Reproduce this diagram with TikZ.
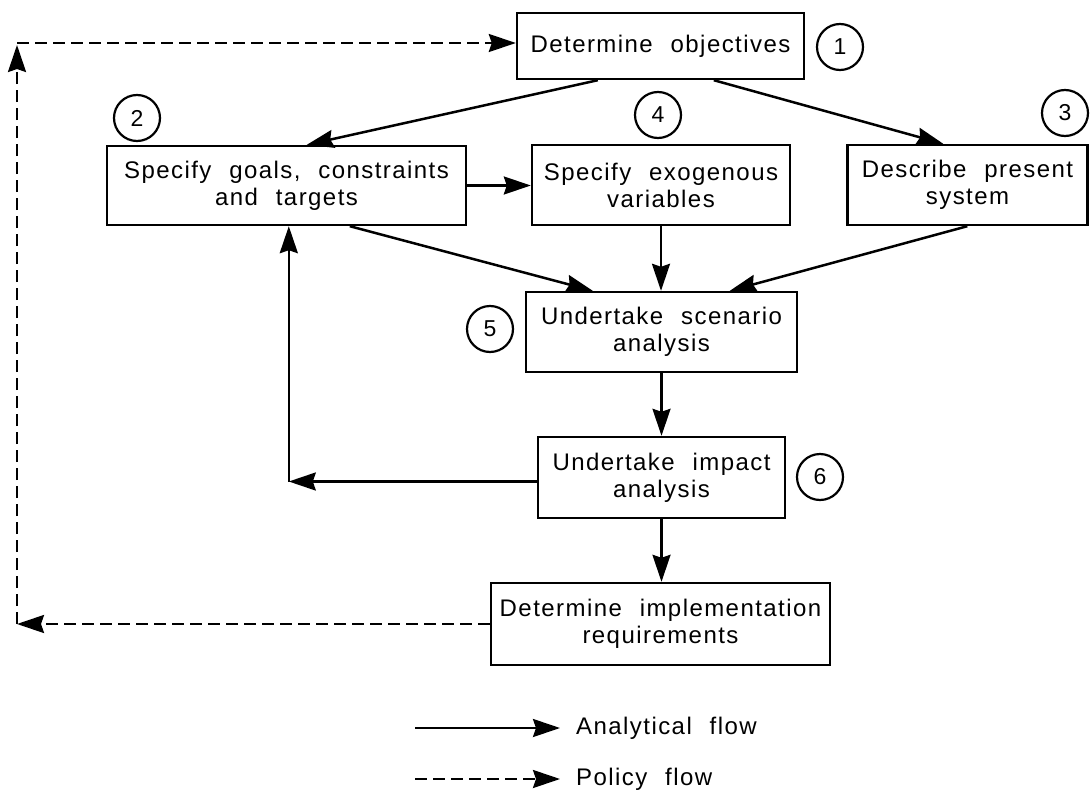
\documentclass[tikz,border=0pt]{standalone}
\usepackage{fontspec}
\setmainfont{Liberation Sans}[LetterSpace=6,WordSpace=2.2]
\usetikzlibrary{arrows.meta,calc}
\begin{document}
\begin{tikzpicture}[x=1pt,y=-1pt,
  box/.style={draw,line width=2.4pt,inner sep=0pt,align=center,font=\fontsize{24}{27}\selectfont},
  num/.style={draw,circle,line width=2.2pt,minimum size=46pt,inner sep=0pt,font=\fontsize{23}{26}\selectfont},
  arr/.style={line width=2.5pt,-{Stealth[length=27pt,width=18pt,inset=3pt]}},
  pol/.style={arr,dash pattern=on 12pt off 6pt},
  lab/.style={anchor=west,inner sep=0pt,font=\fontsize{24}{27}\selectfont}]
\useasboundingbox (0,0) rectangle (1090,792);
% boxes
\node[box,minimum width=287pt,minimum height=66pt] (obj) at (660.5,46) {Determine objectives};
\node[box,minimum width=359pt,minimum height=79pt] (goals) at (286.5,185.5) {Specify goals, constraints\\and targets};
\node[box,minimum width=258pt,minimum height=80pt] (exo) at (661,185) {Specify exogenous\\variables};
\node[box,minimum width=240pt,minimum height=80pt] (desc) at (967.5,185) {Describe present\\system};
\node[box,minimum width=271pt,minimum height=80pt] (scen) at (661.5,332) {Undertake scenario\\analysis};
\node[box,minimum width=247pt,minimum height=81pt] (imp) at (661.5,477.5) {Undertake impact\\analysis};
\node[box,minimum width=339pt,minimum height=82pt] (impl) at (660.5,624) {Determine implementation\\requirements};
% numbered circles
\node[num] (c1) at (840,47) {1};
\node[num] (c2) at (137,118) {2};
\node[num] (c3) at (1065,113) {3};
\node[num] (c4) at (658,115) {4};
\node[num] (c5) at (490,329) {5};
\node[num] (c6) at (820,477) {6};
% analytical flow
\draw[arr] ([xshift=82pt]obj.south west) -- ([xshift=201pt]goals.north west);
\draw[arr] ([xshift=198pt]obj.south west) -- ([xshift=97pt]desc.north west);
\draw[arr] (goals.east) -- (goals.east -| exo.west);
\draw[arr] ([xshift=244pt]goals.south west) -- ([xshift=68pt]scen.north west);
\draw[arr] (exo.south) -- (exo.south |- scen.north);
\draw[arr] ([xshift=121pt]desc.south west) -- ([xshift=205pt]scen.north west);
\draw[arr] (scen.south) -- (scen.south |- imp.north);
\coordinate (gb) at ([xshift=183pt]goals.south west);
\coordinate (fb) at ([yshift=-4pt]gb |- imp.west);
\draw[arr] ([yshift=-4pt]imp.west) -- (fb);
\draw[arr] (fb) -- (gb);
\draw[arr] (imp.south) -- (imp.south |- impl.north);
% policy flow
\coordinate (bl) at (17,624);
\coordinate (tl) at (17,43);
\draw[pol] (impl.west) -- (bl);
\draw[pol] (bl) -- ([yshift=-2pt]tl);
\draw[pol] (tl) -- (tl -| obj.west);
% legend
\coordinate (la) at (415,728);
\coordinate (lb) at (560,728);
\coordinate (pa) at (415,779);
\coordinate (pb) at (560,779);
\draw[arr] (la) -- (lb);
\draw[pol] (pa) -- (pb);
\node[lab] (lan) at (576,728) {Analytical flow};
\node[lab] (pol) at (576,779) {Policy flow};
\end{tikzpicture}
\end{document}
